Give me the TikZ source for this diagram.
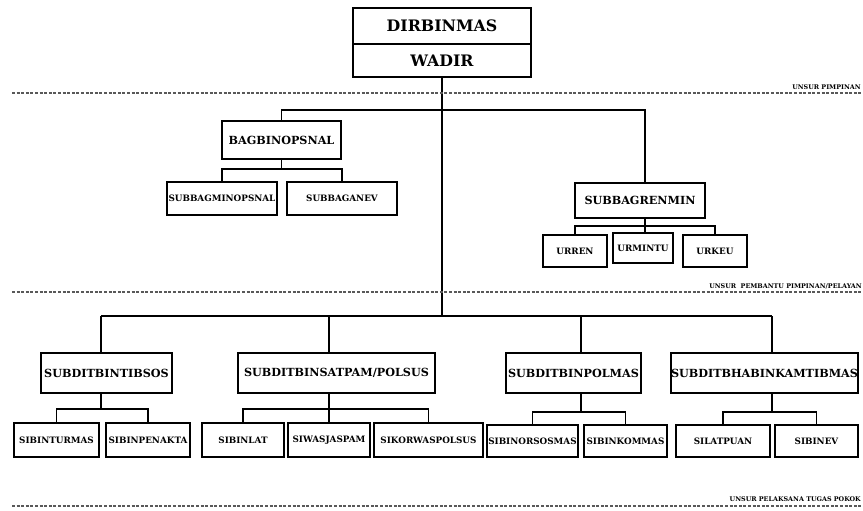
\documentclass[tikz,border=0pt]{standalone}
\usepackage{fontspec}
\setmainfont{DejaVu Serif}[BoldFont={DejaVu Serif Bold}]
\usetikzlibrary{positioning, calc}
\tikzset{
	every node/.style={
		font=\bfseries
	},
	kepala/.style={
		shape=rectangle,
		draw,
		line width=1.8pt,
		inner sep=0pt,
		outer sep=0pt,
		minimum width=178pt,
		text centered,
		font=\bfseries\fontsize{15.8}{15.8}\selectfont
	},
	bagian/.style={
		shape=rectangle,
		draw,
		line width=1.8pt,
		inner sep=0pt,
		outer sep=0pt,
		minimum height=38pt,
		text centered,
		font=\bfseries\fontsize{11.2}{11.2}\selectfont
	},
	urusan/.style={
		shape=rectangle,
		draw,
		line width=1.8pt,
		inner sep=0pt,
		outer sep=0pt,
		minimum height=33pt,
		text centered,
		font=\bfseries\fontsize{8.8}{8.8}\selectfont
	},
	garis/.style={
		line width=1.8pt
	},
	batas/.style={
		line width=1.1pt,
		dash pattern=on 3pt off 1.6pt,
		gray!70!black
	},
	keterangan/.style={
		inner sep=0pt,
		font=\bfseries\fontsize{6.4}{6.4}\selectfont
	}
}

\begin{document}
\begin{tikzpicture}[x=1pt,y=-1pt]
  \clip (0,0) rectangle (863,511);

  % pimpinan
  \node[kepala, minimum height=36pt]                 (dirbinmas) at (442,26) {DIRBINMAS};
  \node[kepala, minimum height=33pt, below=0pt of dirbinmas] (wadir)  {WADIR};

  % pembantu pimpinan
  \node[bagian, minimum width=119pt]                 (bagbinopsnal)    at (281.5,140) {BAGBINOPSNAL};
  \node[urusan, minimum width=110pt]                 (subbagminopsnal) at (222,198.5) {SUBBAGMINOPSNAL};
  \node[urusan, minimum width=110pt]                 (subbaganev)      at (342,198.5) {SUBBAGANEV};
  \node[bagian, minimum width=130pt, minimum height=35pt] (subbagrenmin) at (640,200.5) {SUBBAGRENMIN};
  \node[urusan, minimum width=64pt, minimum height=32pt]  (urren)   at (575,251) {URREN};
  \node[urusan, minimum width=60pt, minimum height=30pt]  (urmintu) at (643,248) {URMINTU};
  \node[urusan, minimum width=64pt, minimum height=32pt]  (urkeu)   at (715,251) {URKEU};

  % pelaksana tugas pokok
  \node[bagian, minimum width=131pt, minimum height=40pt] (tibsos)  at (106.5,373) {SUBDITBINTIBSOS};
  \node[bagian, minimum width=197pt, minimum height=40pt] (satpam)  at (336.5,373) {SUBDITBINSATPAM/POLSUS};
  \node[bagian, minimum width=135pt, minimum height=40pt] (polmas)  at (573.5,373) {SUBDITBINPOLMAS};
  \node[bagian, minimum width=187pt, minimum height=40pt] (bhabin)  at (764.5,373) {SUBDITBHABINKAMTIBMAS};

  \node[urusan, minimum width=85pt, minimum height=34pt]  (sibinturmas)    at (56.5,440)  {SIBINTURMAS};
  \node[urusan, minimum width=84pt, minimum height=34pt]  (sibinpenakta)   at (148,440)   {SIBINPENAKTA};
  \node[urusan, minimum width=82pt, minimum height=34pt]  (sibinlat)       at (243,440)   {SIBINLAT};
  \node[urusan, minimum width=82pt, minimum height=34pt]  (siwasjaspam)    at (329,440)   {SIWASJASPAM};
  \node[urusan, minimum width=109pt, minimum height=34pt] (sikorwaspolsus) at (428.5,440) {SIKORWASPOLSUS};
  \node[urusan, minimum width=91pt, minimum height=32pt]  (sibinorsosmas)  at (532.5,441) {SIBINORSOSMAS};
  \node[urusan, minimum width=83pt, minimum height=32pt]  (sibinkommas)    at (625.5,441) {SIBINKOMMAS};
  \node[urusan, minimum width=94pt, minimum height=32pt]  (silatpuan)      at (723,441)   {SILATPUAN};
  \node[urusan, minimum width=83pt, minimum height=32pt]  (sibinev)        at (816.5,441) {SIBINEV};

  % titik cabang
  \coordinate (cabang) at (442,110);
  \coordinate (kr)     at (645,110);
  \coordinate (k1)     at (101,316);
  \coordinate (k2)     at (329,316);
  \coordinate (k3)     at (581,316);
  \coordinate (k4)     at (772,316);

  % garis komando
  \draw[garis] (wadir.south) -- (wadir.south |- k1);
  \draw[garis] (bagbinopsnal.north) |- (kr) -- (kr |- subbagrenmin.north);
  \draw[garis] (bagbinopsnal.south) -- ++(0,10) -| (subbagminopsnal.north);
  \draw[garis] (bagbinopsnal.south) ++(0,10) -| (subbaganev.north);
  \draw[garis] (kr |- subbagrenmin.south) -- ++(0,8) -| (urren.north);
  \draw[garis] (kr |- subbagrenmin.south) ++(0,8) -| (urkeu.north);
  \draw[garis] (kr |- subbagrenmin.south) -- (kr |- urmintu.north);

  \draw[garis] (k1) -- (k4);
  \draw[garis] (k1) -- (k1 |- tibsos.north);
  \draw[garis] (k2) -- (k2 |- satpam.north);
  \draw[garis] (k3) -- (k3 |- polmas.north);
  \draw[garis] (k4) -- (k4 |- bhabin.north);

  \draw[garis] (k1 |- tibsos.south) -- ++(0,16) -| (sibinturmas.north);
  \draw[garis] (k1 |- tibsos.south) ++(0,16) -| (sibinpenakta.north);
  \draw[garis] (k2 |- satpam.south) -- ++(0,16) -| (sibinlat.north);
  \draw[garis] (k2 |- satpam.south) ++(0,16) -| (sikorwaspolsus.north);
  \draw[garis] (k2 |- satpam.south) -- (k2 |- siwasjaspam.north);
  \draw[garis] (k3 |- polmas.south) -- ++(0,19) -| (sibinorsosmas.north);
  \draw[garis] (k3 |- polmas.south) ++(0,19) -| (sibinkommas.north);
  \draw[garis] (k4 |- bhabin.south) -- ++(0,19) -| (silatpuan.north);
  \draw[garis] (k4 |- bhabin.south) ++(0,19) -| (sibinev.north);

  % batas unsur
  \draw[batas] (12,93)  -- (863,93);
  \draw[batas] (12,292) -- (863,292);
  \draw[batas] (12,506) -- (863,506);
  \node[keterangan, anchor=south east] (pimpinan)  at (861,90)  {UNSUR PIMPINAN};
  \node[keterangan, anchor=south east] (pembantu)  at (862,289) {UNSUR\ \ PEMBANTU PIMPINAN/PELAYAN};
  \node[keterangan, anchor=south east] (pelaksana) at (861,502) {UNSUR PELAKSANA TUGAS POKOK};
\end{tikzpicture}
\end{document}
